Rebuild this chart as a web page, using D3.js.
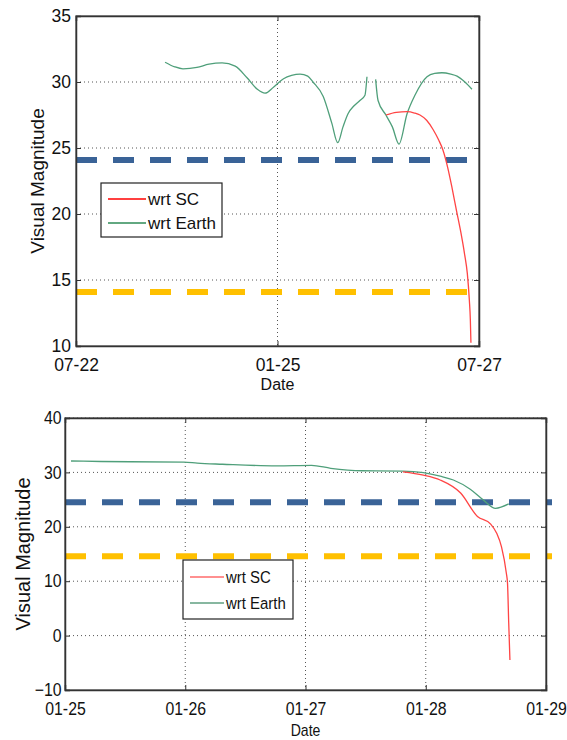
<!DOCTYPE html>
<html><head><meta charset="utf-8">
<script src="https://cdn.jsdelivr.net/npm/d3@7"></script>
<style>body{margin:0;background:#fff}svg{display:block}text{font-family:"Liberation Sans",Arial,sans-serif}</style>
</head><body><svg id="c" width="567" height="740"></svg>
<script>
// ---- Top chart data ----
const topXTicks = [0, 1, 2];
const topXLabels = ["07-22", "01-25", "07-27"];
const topYTicks = [10, 15, 20, 25, 30, 35];
const topEarthX = [0.442,0.49,0.531,0.6,0.66,0.725,0.79,0.85,0.90,0.938,0.98,1.03,1.07,1.112,1.15,1.176,1.227,1.269,1.299,1.325,1.350,1.38,1.409,1.434,1.444,null,
  1.487,1.499,1.538,1.57,1.603,1.643,1.682,1.742,1.78,1.816,1.86,1.891,1.93,1.965];
const topEarthY = [31.5,31.15,31.0,31.1,31.35,31.45,31.2,30.3,29.45,29.15,29.6,30.25,30.5,30.6,30.45,30.0,28.9,26.9,25.4,26.6,27.6,28.2,28.6,29.0,30.4,null,
  30.2,28.6,27.5,26.6,25.3,27.6,29.0,30.4,30.65,30.7,30.6,30.45,30.0,29.45];
const topScX = [1.538,1.59,1.643,1.68,1.707,1.74,1.772,1.80,1.821,1.845,1.866,1.889,1.910,1.928,1.942,1.952,1.957,1.960];
const topScY = [27.5,27.7,27.75,27.65,27.5,27.1,26.4,25.6,24.85,23.5,22.0,20.2,18.6,17.0,15.5,13.5,12.0,10.25];
const topBlueLevel = 24.1;
const topOrangeLevel = 14.1;

// ---- Bottom chart data ----
const botXTicks = [0, 1, 2, 3, 4];
const botXLabels = ["01-25", "01-26", "01-27", "01-28", "01-29"];
const botYTicks = [-10, 0, 10, 20, 30, 40];
const botEarthX = [0.05,0.30,0.99,1.10,1.31,1.76,2.05,2.21,2.47,2.81,2.98,3.12,3.23,3.37,3.48,3.58,3.69];
const botEarthY = [32.1,32.0,31.9,31.7,31.5,31.2,31.3,30.75,30.3,30.25,29.95,29.3,28.6,26.9,24.9,23.4,24.2];
const botScX = [2.81,2.98,3.12,3.29,3.43,3.54,3.59,3.63,3.67,3.68,3.69,3.70];
const botScY = [30.1,29.5,28.6,26.2,21.9,20.5,18.8,16.3,11.5,9.6,2.3,-4.5];
const botBlueLevel = 24.5;
const botOrangeLevel = 14.6;

const seriesNames = ["wrt SC", "wrt Earth"];

const svg = d3.select("#c");

function drawChart(cfg) {
  const g = svg.append("g").attr("transform", `translate(${cfg.left},${cfg.top})`);
  const W = cfg.width, H = cfg.height;
  const x = d3.scaleLinear().domain(cfg.xDomain).range([0, W]);
  const y = d3.scaleLinear().domain(cfg.yDomain).range([H, 0]);
  const sx = cfg.squeeze;

  // grid
  const grid = g.append("g");
  cfg.yTicks.forEach(v => {
    if (v === cfg.yDomain[0]) return;
    if (v === cfg.yDomain[1] && !cfg.topGrid) return;
    grid.append("line").attr("x1", 0).attr("x2", W).attr("y1", y(v)).attr("y2", y(v))
      .attr("stroke", "#555").attr("stroke-width", 1).attr("stroke-dasharray", "1,3");
  });
  cfg.xTicks.forEach(v => {
    if (v === cfg.xDomain[0] || v === cfg.xDomain[1]) return;
    grid.append("line").attr("x1", x(v)).attr("x2", x(v)).attr("y1", 0).attr("y2", H)
      .attr("stroke", "#555").attr("stroke-width", 1).attr("stroke-dasharray", "1,3");
  });

  // threshold dashed lines
  [[cfg.blue, "#3a6397"], [cfg.orange, "#ffc000"]].forEach(([lv, col]) => {
    g.append("line").attr("x1", 0).attr("x2", W + cfg.dashOver).attr("y1", y(lv)).attr("y2", y(lv))
      .attr("stroke", col).attr("stroke-width", 6).attr("stroke-dasharray", "21,16");
  });

  const line = d3.line().defined(d => d[0] !== null).x(d => x(d[0])).y(d => y(d[1])).curve(d3.curveMonotoneX);
  const earth = cfg.earthX.map((v, i) => [v, cfg.earthY[i]]);
  const sc = cfg.scX.map((v, i) => [v, cfg.scY[i]]);
  g.append("path").datum(earth).attr("d", line).attr("fill", "none").attr("stroke", "#4f9f7a").attr("stroke-width", 1.3);
  g.append("path").datum(sc).attr("d", line).attr("fill", "none").attr("stroke", "#ff4444").attr("stroke-width", 1.3);

  // frame
  g.append("rect").attr("x", 0).attr("y", 0).attr("width", W).attr("height", H)
    .attr("fill", "none").attr("stroke", "#444").attr("stroke-width", 1.2);

  // y axis
  const ya = d3.axisLeft(y).tickValues(cfg.yTicks).tickSize(-5).tickPadding(cfg.yPad).tickFormat(d3.format("d"));
  g.append("g").attr("class", "yax").call(ya);
  const ya2 = d3.axisRight(y).tickValues(cfg.yTicks).tickSize(-5).tickFormat("");
  g.append("g").attr("transform", `translate(${W},0)`).call(ya2);
  // x axis
  const xa = d3.axisBottom(x).tickValues(cfg.xTicks).tickSize(-5).tickPadding(cfg.xPad).tickFormat((d, i) => cfg.xLabels[i]);
  g.append("g").attr("class", "xax").attr("transform", `translate(0,${H})`).call(xa);
  const xa2 = d3.axisTop(x).tickValues(cfg.xTicks).tickSize(-5).tickFormat("");
  g.append("g").call(xa2);
  g.selectAll(".domain").attr("stroke", "#333").attr("stroke-width", 1.5);
  g.selectAll(".tick line").attr("stroke", "#333");
  g.selectAll(".tick text").attr("font-size", cfg.tickFont).attr("fill", "#111")
    .attr("font-family", '"Liberation Sans",Arial,sans-serif')
    .attr("transform", `scale(${sx},1)`);

  // axis titles
  g.append("text").attr("transform", `translate(${W / 2},${H + cfg.dateDy}) scale(${sx},1)`).attr("text-anchor", "middle")
    .attr("font-size", 16).attr("fill", "#111").text("Date");
  g.append("text").attr("transform", `translate(${cfg.ylabX},${H / 2}) rotate(-90)`)
    .attr("text-anchor", "middle").attr("font-size", cfg.ylabFont).attr("fill", "#111").text("Visual Magnitude");

  // legend
  const lg = svg.append("g").attr("transform", `translate(${cfg.leg[0]},${cfg.leg[1]})`);
  lg.append("rect").attr("width", cfg.leg[2]).attr("height", cfg.leg[3]).attr("fill", "#fff")
    .attr("stroke", "#222").attr("stroke-width", 1.2);
  const cols = cfg.legCols;
  seriesNames.forEach((n, i) => {
    const yy = cfg.legRow0 + i * cfg.legRowH;
    lg.append("line").attr("x1", 7).attr("x2", cfg.legLineEnd).attr("y1", yy).attr("y2", yy).attr("stroke", cols[i]).attr("stroke-width", 1.3);
    lg.append("text").attr("transform", `translate(${cfg.legLineEnd + 2},${yy + 6}) scale(${sx},1)`)
      .attr("font-size", 17).attr("fill", "#111").text(n);
  });
}

drawChart({
  left: 76, top: 16, width: 403, height: 330,
  xDomain: [0, 2], yDomain: [10, 35], xTicks: topXTicks, xLabels: topXLabels, yTicks: topYTicks,
  earthX: topEarthX, earthY: topEarthY, scX: topScX, scY: topScY,
  blue: topBlueLevel, orange: topOrangeLevel, dashOver: 0, topGrid: false,
  squeeze: 1, tickFont: 17.5, ylabFont: 19, yPad: 5, xPad: 13,
  dateDy: 44, ylabX: -32,
  leg: [101, 183, 121, 54], legRow0: 16, legRowH: 24, legLineEnd: 45, legCols: ["#ff0000", "#2e8b57"]
});
drawChart({
  left: 65, top: 418, width: 481, height: 272,
  xDomain: [0, 4], yDomain: [-10, 40], xTicks: botXTicks, xLabels: botXLabels, yTicks: botYTicks,
  earthX: botEarthX, earthY: botEarthY, scX: botScX, scY: botScY,
  blue: botBlueLevel, orange: botOrangeLevel, dashOver: 6, topGrid: true,
  squeeze: 0.88, tickFont: 18, ylabFont: 20, yPad: 4, xPad: 12,
  dateDy: 46, ylabX: -35,
  leg: [183, 560, 110, 59], legRow0: 17, legRowH: 26, legLineEnd: 41, legCols: ["#ff6b6b", "#5f9f80"]
});
</script></body></html>
